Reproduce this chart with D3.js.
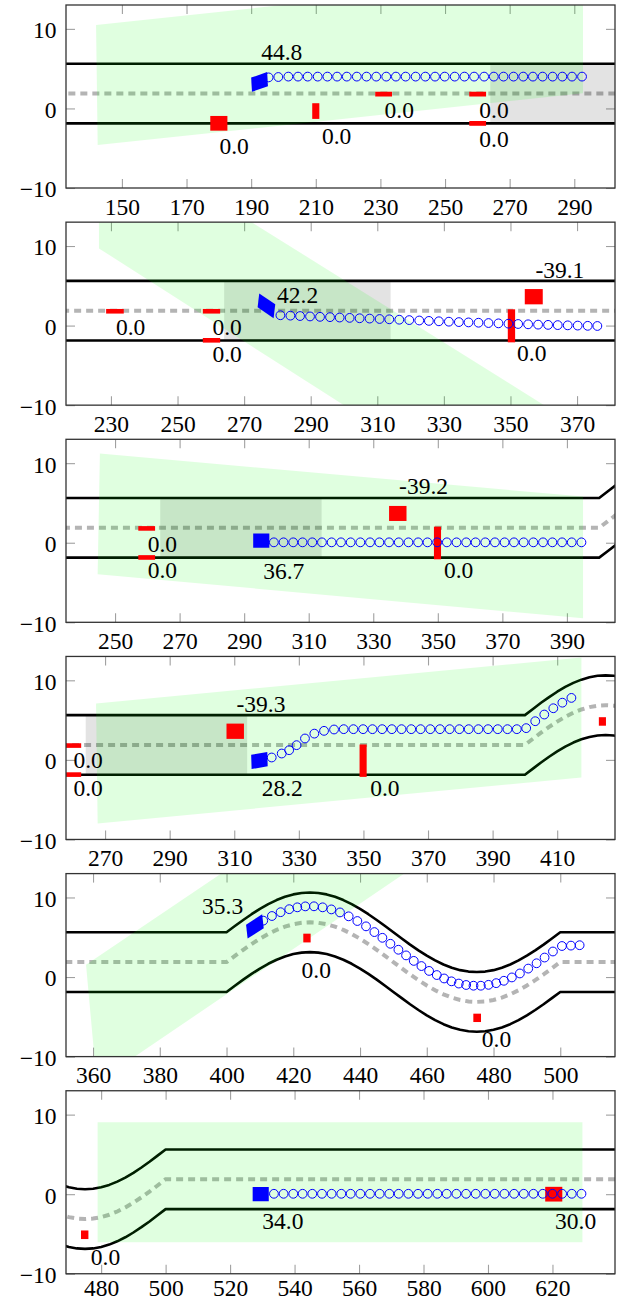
<!DOCTYPE html>
<html><head><meta charset="utf-8">
<script src="https://cdn.jsdelivr.net/npm/d3@7"></script>
<style>
body{margin:0;background:#fff}
text{font-family:"Liberation Serif","Times New Roman",serif;}
</style>
</head><body>
<svg id="c" width="618" height="1302"></svg>
<script>
// ---------- data ----------
const panelXMin = [132.7, 216.5, 234.8, 257.9, 351.9, 469.1];
const panelXMax = [302.6, 381.4, 404.9, 427.9, 516.4, 639.4];
const panelXTicks = [
  [150,170,190,210,230,250,270,290],
  [230,250,270,290,310,330,350,370],
  [250,270,290,310,330,350,370,390],
  [270,290,310,330,350,370,390,410],
  [360,380,400,420,440,460,480,500],
  [480,500,520,540,560,580,600,620]
];
const yTicks = [-10, 0, 10];
const yDomain = [-10, 13];

// road centre shift along x
const roadX = [100,400,402.5,405,407.5,410,412.5,415,417.5,420,422.5,425,427.5,430,432.5,435,437.5,440,442.5,445,447.5,450,452.5,455,457.5,460,462.5,465,467.5,470,472.5,475,477.5,480,482.5,485,487.5,490,492.5,495,497.5,500,800];
const roadShift = [0,0,0.78,1.55,2.27,2.94,3.54,4.05,4.46,4.76,4.94,5.0,4.94,4.76,4.46,4.05,3.54,2.94,2.27,1.55,0.78,0,-0.78,-1.55,-2.27,-2.94,-3.54,-4.05,-4.46,-4.76,-4.94,-5.0,-4.94,-4.76,-4.46,-4.05,-3.54,-2.94,-2.27,-1.55,-0.78,0,0];
const boundaryOffsets = [-1.875, 5.625];
const centreOffset = 1.875;

// grey zone (x range, y range)
const greyZoneX = [264, 314];
const greyZoneY = [-1.875, 5.625];

// green regions per panel (polygon vertices)
const greenZones = [
  [[142.0,10.5],[292.7,17.0],[292.7,1.9],[142.5,-4.6]],
  [[226.4,9.7],[226.4,25.0],[400,-20.45],[400,-36.8]],
  [[245.3,11.2],[395,5.8],[395,-9.5],[244.6,-3.96]],
  [[267.2,7.1],[417.5,12.86],[417.5,-2.2],[267.7,-8.0]],
  [[357.9,1.55],[400,13.46],[455,13.5],[361.1,-13.25]],
  [[478.9,9.03],[629.3,9.03],[629.3,-6.04],[478.9,-6.04]]
];

// ego vehicle per panel
const egoX = [192.6, 276.7, 295.3, 317.8, 408.5, 529.5];
const egoY = [3.33, 2.49, 0.27, -0.08, 6.36, 0.0];
const egoHeading = [8, -16, 0, 4, 15, 0];
const egoLength = 5.0, egoWidth = 1.8;
const egoLabel = ["44.8","42.2","36.7","28.2","35.3","34.0"];
const egoLabelX = [193.1, 279.9, 295.9, 318.5, 405.0, 530.0];
const egoLabelY = [6.1, 2.87, -4.55, -4.6, 7.9, -4.32];
const egoLabelAnchor = ["start","start","start","start","end","start"];

// predicted trajectories per panel
const trajX = [
  [195.4,198.4,201.5,204.5,207.5,210.6,213.6,216.6,219.6,222.7,225.7,228.7,231.8,234.8,237.8,240.9,243.9,246.9,249.9,253.0,256.0,259.0,262.1,265.1,268.1,271.2,274.2,277.2,280.2,283.3,286.3,289.3,292.4],
  [280.9,283.9,286.8,289.8,292.8,295.8,298.7,301.7,304.7,307.7,310.7,313.6,316.6,319.6,322.6,325.5,328.5,331.5,334.5,337.4,340.4,343.4,346.4,349.4,352.3,355.3,358.3,361.3,364.2,367.2,370.2,373.2,376.1],
  [299.2,302.2,305.2,308.1,311.1,314.1,317.1,320.0,323.0,326.0,329.0,331.9,334.9,337.9,340.9,343.9,346.8,349.8,352.8,355.8,358.8,361.7,364.7,367.7,370.7,373.6,376.6,379.6,382.6,385.5,388.5,391.5,394.5],
  [321.6,324.7,327.0,329.3,331.9,334.8,337.8,340.9,343.9,346.9,349.9,352.8,355.8,358.8,361.8,364.8,367.7,370.7,373.7,376.7,379.7,382.6,385.6,388.6,391.6,394.6,397.5,400.4,403.2,406.0,408.8,411.6,414.4],
  [411.0,413.6,416.2,418.8,421.2,423.6,426.2,428.8,431.4,434.0,436.6,439.2,441.8,444.3,446.7,449.1,451.5,453.8,456.1,458.4,460.7,463.0,465.2,467.4,469.6,471.8,474.0,476.2,478.5,480.8,483.1,485.5,487.9,490.4,492.9,495.3,497.8,500.5,503.2,505.8],
  [533.6,536.6,539.6,542.5,545.5,548.5,551.5,554.5,557.4,560.4,563.4,566.4,569.4,572.3,575.3,578.3,581.3,584.3,587.2,590.2,593.2,596.2,599.2,602.1,605.1,608.1,611.1,614.1,617.0,620.0,623.0,626.0,629.0]
];
const trajY = [
  [3.9,3.95,4.0,4.0,4.0,4.0,4.0,4.0,4.0,4.0,4.0,4.0,4.0,4.0,4.0,4.0,4.0,4.0,4.0,4.0,4.0,4.0,4.0,4.0,4.0,4.0,4.0,4.0,4.0,4.0,4.0,4.0,4.0],
  [1.3,1.25,1.2,1.15,1.1,1.06,1.01,0.97,0.92,0.88,0.83,0.79,0.74,0.69,0.64,0.59,0.54,0.49,0.44,0.40,0.36,0.32,0.28,0.24,0.20,0.16,0.12,0.09,0.06,0.03,0.0,-0.03,-0.05],
  [0.05,0.05,0.05,0.05,0.05,0.05,0.05,0.05,0.05,0.05,0.05,0.05,0.05,0.05,0.05,0.05,0.05,0.05,0.05,0.05,0.05,0.05,0.05,0.05,0.05,0.05,0.05,0.05,0.05,0.05,0.05,0.05,0.05],
  [0.3,0.8,1.22,1.85,2.69,3.3,3.65,3.82,3.86,3.86,3.86,3.86,3.86,3.86,3.86,3.86,3.86,3.86,3.86,3.86,3.86,3.86,3.86,3.86,3.86,3.86,3.86,3.99,4.86,5.70,6.49,7.19,7.79],
  [7.09,7.67,8.15,8.53,8.76,8.88,8.89,8.76,8.50,8.12,7.63,7.04,6.37,5.65,4.93,4.18,3.43,2.72,2.03,1.38,0.77,0.25,-0.18,-0.54,-0.82,-1.0,-1.09,-1.09,-0.98,-0.77,-0.47,-0.05,0.45,1.06,1.73,2.45,3.21,3.9,3.95,4.0],
  [0.05,0.05,0.05,0.05,0.05,0.05,0.05,0.05,0.05,0.05,0.05,0.05,0.05,0.05,0.05,0.05,0.05,0.05,0.05,0.05,0.05,0.05,0.05,0.05,0.05,0.05,0.05,0.05,0.05,0.05,0.05,0.05,0.05]
];

// other objects per panel: centre, x-length, y-width, speed label and its position
const obstacles = [
  [
    {x:180.0,y:-1.87,len:5.3,wid:1.85,label:"0.0",lx:180.2,ly:-5.72},
    {x:210.0,y:-0.33,len:2.2,wid:1.97,label:"0.0",lx:211.9,ly:-4.47},
    {x:231.0,y:1.8,len:5.2,wid:0.6,label:"0.0",lx:231.3,ly:-1.23},
    {x:260.1,y:1.8,len:5.2,wid:0.6,label:"0.0",lx:260.6,ly:-1.23},
    {x:260.1,y:-1.88,len:5.2,wid:0.6,label:"0.0",lx:260.6,ly:-4.88}
  ],
  [
    {x:231.2,y:1.8,len:5.3,wid:0.58,label:"0.0",lx:231.5,ly:-1.19},
    {x:260.2,y:1.8,len:5.2,wid:0.58,label:"0.0",lx:260.5,ly:-1.19},
    {x:260.2,y:-1.85,len:5.2,wid:0.58,label:"0.0",lx:260.5,ly:-4.55},
    {x:350.3,y:-0.03,len:2.2,wid:4.15,label:"0.0",lx:352.0,ly:-4.43},
    {x:357.0,y:3.63,len:5.4,wid:1.92,label:"-39.1",lx:357.5,ly:6.01}
  ],
  [
    {x:259.8,y:1.8,len:5.2,wid:0.58,label:"0.0",lx:260.1,ly:-1.12},
    {x:259.8,y:-1.85,len:5.2,wid:0.58,label:"0.0",lx:260.1,ly:-4.47},
    {x:349.9,y:-0.03,len:2.2,wid:4.1,label:"0.0",lx:351.9,ly:-4.47},
    {x:337.6,y:3.68,len:5.4,wid:1.89,label:"-39.2",lx:338.0,ly:6.1}
  ],
  [
    {x:260.0,y:1.8,len:5.2,wid:0.58,label:"0.0",lx:260.2,ly:-1.08},
    {x:260.0,y:-1.85,len:5.2,wid:0.58,label:"0.0",lx:260.2,ly:-4.6},
    {x:310.3,y:3.6,len:5.4,wid:1.92,label:"-39.3",lx:310.7,ly:6.03},
    {x:349.9,y:-0.1,len:2.2,wid:4.07,label:"0.0",lx:352.1,ly:-4.5},
    {x:424.0,y:4.83,len:2.2,wid:1.07,label:"",lx:0,ly:0}
  ],
  [
    {x:424.1,y:4.9,len:2.2,wid:1.1,label:"0.0",lx:422.5,ly:-0.13},
    {x:475.1,y:-5.13,len:2.3,wid:1.05,label:"0.0",lx:476.5,ly:-8.84}
  ],
  [
    {x:474.9,y:-5.1,len:2.3,wid:1.08,label:"0.0",lx:476.8,ly:-8.85},
    {x:620.4,y:0.0,len:5.3,wid:1.85,label:"30.0",lx:620.8,ly:-4.32}
  ]
];

// ---------- drawing ----------
const svg = d3.select("#c");
const frameL = 66, frameR = 615, panelH = 183, panelTop0 = 5, panelStep = 217.15;
const fontSize = 23.5;

function carCorners(cx, cy, headingDeg, L, Wd) {
  const t = headingDeg * Math.PI / 180;
  const ax = Math.cos(t) * L / 2, ay = Math.sin(t) * L / 2;
  const bx = -Math.sin(t) * Wd / 2, by = Math.cos(t) * Wd / 2;
  return [[cx+ax+bx, cy+ay+by],[cx+ax-bx, cy+ay-by],[cx-ax-bx, cy-ay-by],[cx-ax+bx, cy-ay+by]];
}

for (let i = 0; i < 6; i++) {
  const top = panelTop0 + i * panelStep;
  const x = d3.scaleLinear().domain([panelXMin[i], panelXMax[i]]).range([frameL, frameR]);
  const y = d3.scaleLinear().domain(yDomain).range([top + panelH, top]);
  const g = svg.append("g");

  const clipId = "clip" + i;
  svg.append("clipPath").attr("id", clipId).append("rect")
    .attr("x", frameL).attr("y", top).attr("width", frameR - frameL).attr("height", panelH);

  // axes ticks
  const pad = i === 5 ? 6 : 10;
  const axB = d3.axisBottom(x).tickValues(panelXTicks[i]).tickSizeInner(-9).tickSizeOuter(0).tickPadding(pad).tickFormat(d3.format("d"));
  const axT = d3.axisTop(x).tickValues(panelXTicks[i]).tickSizeInner(-9).tickSizeOuter(0).tickFormat("");
  const axL = d3.axisLeft(y).tickValues(yTicks).tickSizeInner(-9).tickSizeOuter(0).tickPadding(9.5);
  const axR = d3.axisRight(y).tickValues(yTicks).tickSizeInner(-9).tickSizeOuter(0).tickFormat("");
  [[axB, `translate(0,${top + panelH})`, "b"], [axT, `translate(0,${top})`, "t"], [axL, `translate(${frameL},0)`, "l"], [axR, `translate(${frameR},0)`, "r"]].forEach(([ax, tr, side]) => {
    const a = g.append("g").attr("transform", tr).call(ax);
    a.select(".domain").remove();
    a.selectAll(".tick line").attr("stroke", "#a0a0a0").attr("stroke-width", 1.1);
    a.selectAll("text").attr("fill", "#000").attr("font-size", fontSize).attr("font-family", '"Liberation Serif",serif');
    if (side === "l") a.selectAll("text").attr("dy", "0.38em");
  });

  const plot = g.append("g").attr("clip-path", `url(#${clipId})`);

  // road
  const roadPts = roadX.map((rx, k) => [rx, roadShift[k]]);
  const line = d3.line().x(d => x(d[0])).y(d => y(d[1]));
  boundaryOffsets.forEach(off => {
    plot.append("path").attr("d", line(roadPts.map(p => [p[0], p[1] + off])))
      .attr("fill", "none").attr("stroke", "#000").attr("stroke-width", 2.6).attr("stroke-linejoin", "round");
  });
  plot.append("path").attr("d", line(roadPts.map(p => [p[0], p[1] + centreOffset])))
    .attr("fill", "none").attr("stroke", "#8c8c8c").attr("stroke-opacity", 0.65)
    .attr("stroke-width", 4).attr("stroke-dasharray", "7,5");

  // grey zone
  plot.append("rect")
    .attr("x", x(greyZoneX[0])).attr("y", y(greyZoneY[1]))
    .attr("width", x(greyZoneX[1]) - x(greyZoneX[0]))
    .attr("height", y(greyZoneY[0]) - y(greyZoneY[1]))
    .attr("fill", "#000").attr("fill-opacity", 0.11);

  // green zone
  plot.append("path")
    .attr("d", d3.line().x(d => x(d[0])).y(d => y(d[1]))(greenZones[i]) + "Z")
    .attr("fill", "#00ff00").attr("fill-opacity", 0.12);

  // obstacles
  obstacles[i].forEach(o => {
    plot.append("rect")
      .attr("x", x(o.x - o.len / 2)).attr("y", y(o.y + o.wid / 2))
      .attr("width", x(o.x + o.len / 2) - x(o.x - o.len / 2))
      .attr("height", y(o.y - o.wid / 2) - y(o.y + o.wid / 2))
      .attr("fill", "#ff0000");
  });

  // ego vehicle
  const corners = carCorners(egoX[i], egoY[i], egoHeading[i], egoLength, egoWidth);
  plot.append("path")
    .attr("d", d3.line().x(d => x(d[0])).y(d => y(d[1]))(corners) + "Z")
    .attr("fill", "#0000ff");

  // trajectory
  plot.selectAll(null).data(trajX[i].map((tx, k) => [tx, trajY[i][k]])).enter()
    .append("circle")
    .attr("cx", d => x(d[0])).attr("cy", d => y(d[1])).attr("r", 4.4)
    .attr("fill", "none").attr("stroke", "#0000ff").attr("stroke-width", 1);

  // labels
  obstacles[i].filter(o => o.label).forEach(o => {
    plot.append("text").attr("x", x(o.lx)).attr("y", y(o.ly))
      .attr("font-size", fontSize).attr("fill", "#000").text(o.label);
  });
  plot.append("text").attr("x", x(egoLabelX[i])).attr("y", y(egoLabelY[i]))
    .attr("text-anchor", egoLabelAnchor[i])
    .attr("font-size", fontSize).attr("fill", "#000").text(egoLabel[i]);

  // frame
  g.append("rect").attr("x", frameL).attr("y", top).attr("width", frameR - frameL).attr("height", panelH)
    .attr("fill", "none").attr("stroke", "#333").attr("stroke-width", 1.3);
}
</script>
</body></html>
